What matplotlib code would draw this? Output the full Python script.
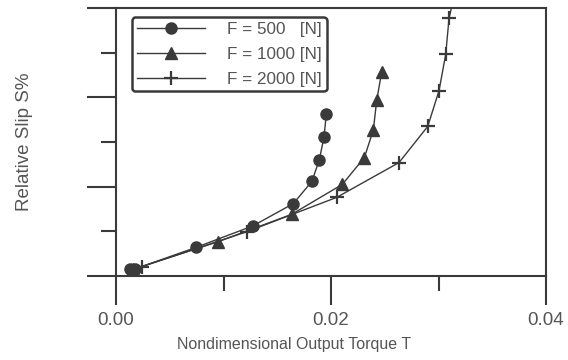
import matplotlib
matplotlib.use("Agg")
import matplotlib.pyplot as plt
from matplotlib.ticker import MultipleLocator

plt.rcParams['font.family'] = ['Liberation Sans', 'DejaVu Sans']

# Data (x: nondimensional torque, y: relative slip, arbitrary units)
t_500 = [0.0013, 0.0018, 0.00744, 0.01272, 0.01649, 0.01823, 0.01891, 0.01935, 0.01956]
s_500 = [0.15, 0.16, 0.64, 1.12, 1.62, 2.12, 2.60, 3.11, 3.62]

t_1000 = [0.0016, 0.00952, 0.01634, 0.02105, 0.0231, 0.02394, 0.02425, 0.02471]
s_1000 = [0.15, 0.77, 1.38, 2.05, 2.65, 3.27, 3.93, 4.56]

t_2000 = [0.00239, 0.01216, 0.02053, 0.02633, 0.029, 0.03005, 0.03067, 0.03098, 0.0312]
s_2000 = [0.21, 0.99, 1.76, 2.54, 3.35, 4.15, 4.96, 5.77, 6.0]

labels = ["F = 500   [N]", "F = 1000 [N]", "F = 2000 [N]"]
xticks = [0.00, 0.02, 0.04]
xticklabels = ["0.00", "0.02", "0.04"]

dark = "#3a3a3a"
textc = "#555555"

fig = plt.figure(figsize=(5.68, 3.6), dpi=100)
ax = fig.add_axes([116/568, 1 - 276/360, 430/568, 268/360])

ax.plot(t_500, s_500, color=dark, lw=1.0, marker='o', ms=8, mfc=dark, mec=dark, label=labels[0])
ax.plot(t_1000, s_1000, color=dark, lw=1.0, marker='^', ms=8, mfc=dark, mec=dark, label=labels[1])
ax.plot(t_2000, s_2000, color=dark, lw=1.0, marker='+', ms=10, mew=1.6, mec=dark,
        markevery=list(range(len(t_2000) - 1)), label=labels[2])

ax.set_xlim(0, 0.04)
ax.set_ylim(0, 6)
ax.set_xticks(xticks)
ax.set_xticklabels(xticklabels)
ax.xaxis.set_minor_locator(MultipleLocator(0.01))
ax.yaxis.set_major_locator(MultipleLocator(2))
ax.yaxis.set_minor_locator(MultipleLocator(1))
ax.set_yticklabels([])

ax.tick_params(which='major', direction='out', length=21, width=1.5, color=dark,
               labelsize=13.5, labelcolor=textc, pad=5)
ax.tick_params(which='minor', direction='out', length=11, width=1.5, color=dark)
for sp in ax.spines.values():
    sp.set_color(dark)
    sp.set_linewidth(1.5)

ax.set_xlabel("Nondimensional Output Torque T", fontsize=11.5, color=textc)
ax.xaxis.set_label_coords((294 - 116) / 430, (276 - 337) / 268)
ax.xaxis.label.set_va('top')
ax.set_ylabel("Relative Slip S%", fontsize=13.5, color=textc)
ax.yaxis.set_label_coords(-(116 - 33) / 430, 0.5)

leg = ax.legend(loc='upper left', bbox_to_anchor=(0.037, 0.966), borderaxespad=0,
                prop={'size': 12.3}, handlelength=4.0, handletextpad=1.3, labelspacing=0.58,
                fancybox=True, frameon=True, borderpad=0.28)
for txt in leg.get_texts():
    txt.set_color(textc)
fr = leg.get_frame()
fr.set_edgecolor(dark)
fr.set_linewidth(1.8)
fr.set_alpha(1)

fig.savefig("out.png", dpi=100)
